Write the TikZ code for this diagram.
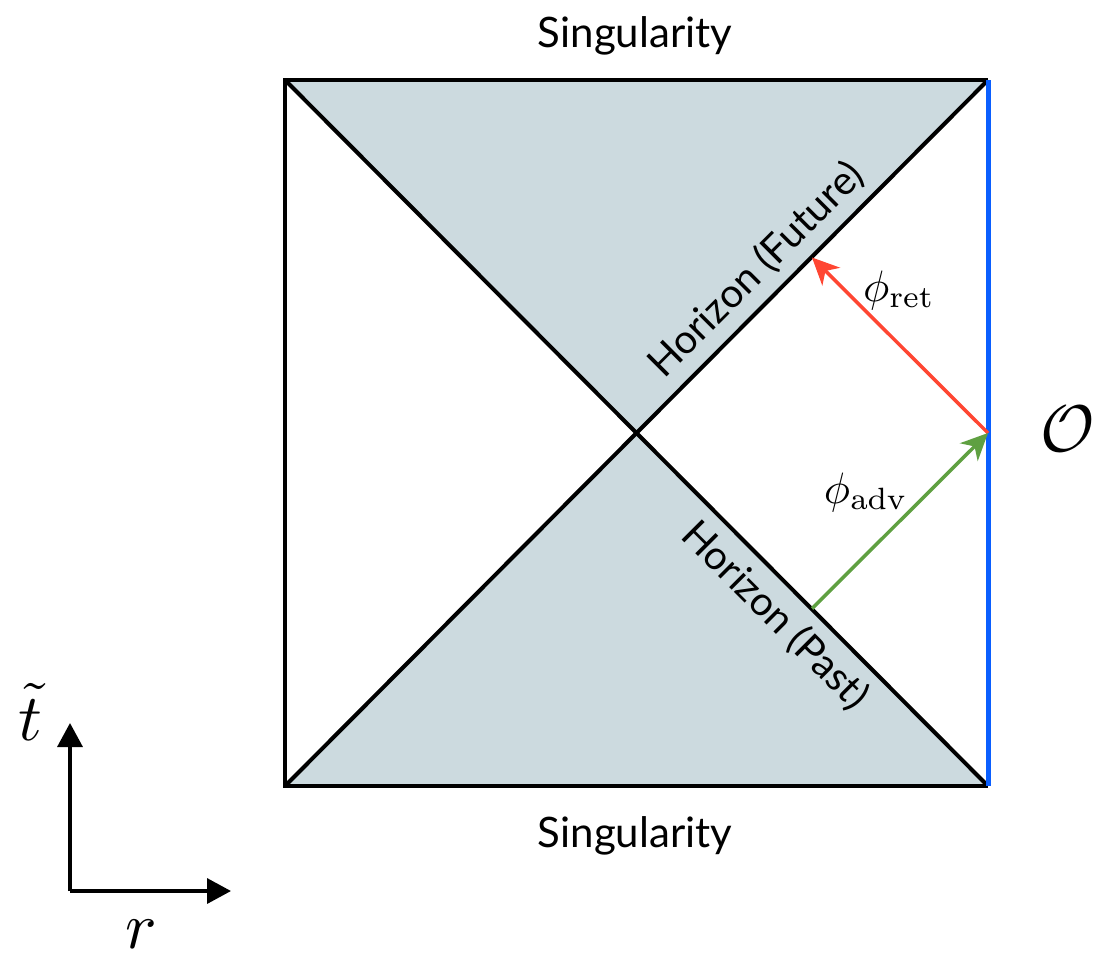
\documentclass[tikz,border=0pt]{standalone}
\usepackage{graphicx}
\usepackage[no-math]{fontspec}
\setmainfont{Lato}
\usetikzlibrary{arrows.meta}
\definecolor{greyfill}{RGB}{204,218,223}
\definecolor{edgeblue}{RGB}{10,95,255}
\definecolor{retred}{RGB}{255,70,50}
\definecolor{advgreen}{RGB}{95,160,65}
\newcommand{\mlbl}[1]{\scalebox{4.4}{$#1$}}
\newcommand{\blbl}[1]{\scalebox{6.6}{$#1$}}
\tikzset{
  edge/.style={line width=4pt, black},
  sing/.style={font=\fontsize{42}{50}\selectfont, inner sep=0pt},
  horiz/.style={font=\fontsize{40}{48}\selectfont, inner sep=12pt},
  mathlbl/.style={inner sep=0pt},
  ray/.style={line width=3.5pt, -{Stealth[length=27pt,width=25pt,inset=8pt]}},
  axis/.style={line width=3.5pt, -{Triangle[length=24pt,width=25pt]}}
}
\begin{document}
\begin{tikzpicture}[x=1pt,y=-1pt]
\useasboundingbox (0,0) rectangle (1099,956);
% corners
\coordinate (TL) at (285,80);
\coordinate (TR) at (988,80);
\coordinate (BL) at (285,786);
\coordinate (BR) at (988,786);
\coordinate (C) at (636.5,433);
\coordinate (O) at (988,433);
\coordinate (Hf) at (812,257.5);
\coordinate (Hp) at (812,608.5);
% shaded regions
\fill[greyfill] (TL) -- (TR) -- (C) -- cycle;
\fill[greyfill] (BL) -- (BR) -- (C) -- cycle;
% outline
\draw[edge] (TR) -- (TL) -- (BL) -- (BR);
\draw[edge] (TL) -- (BR);
\draw[edge] (BL) -- (TR);
\draw[line width=5pt, edgeblue] (TR) -- (BR);
% rays
\draw[ray, retred] (O) -- (Hf);
\draw[ray, advgreen] (Hp) -- (O);
% labels
\node[sing] (stop) at (635,36) {Singularity};
\node[sing] (sbot) at (635,836) {Singularity};
\node[horiz, rotate=45, anchor=south] (hfut) at (778,291.5) {Horizon (Future)};
\node[horiz, rotate=-45, anchor=north] (hpast) at (797,594) {Horizon (Past)};
\node[mathlbl] (pret) at (899,290) {\mlbl{\phi_{\mathrm{ret}}}};
\node[mathlbl] (padv) at (866,492) {\mlbl{\phi_{\mathrm{adv}}}};
\node[mathlbl] (Olbl) at (1068,429) {\blbl{\mathcal{O}}};
% axes
\coordinate (ax) at (70,891);
\coordinate (axt) at (70,723);
\coordinate (axr) at (231,891);
\draw[axis] (ax) -- (axt);
\draw[axis] (ax) -- (axr);
\node[mathlbl] (tl) at (30,712) {\blbl{\tilde t}};
\node[mathlbl] (rl) at (141,934) {\blbl{r}};
\end{tikzpicture}
\end{document}
